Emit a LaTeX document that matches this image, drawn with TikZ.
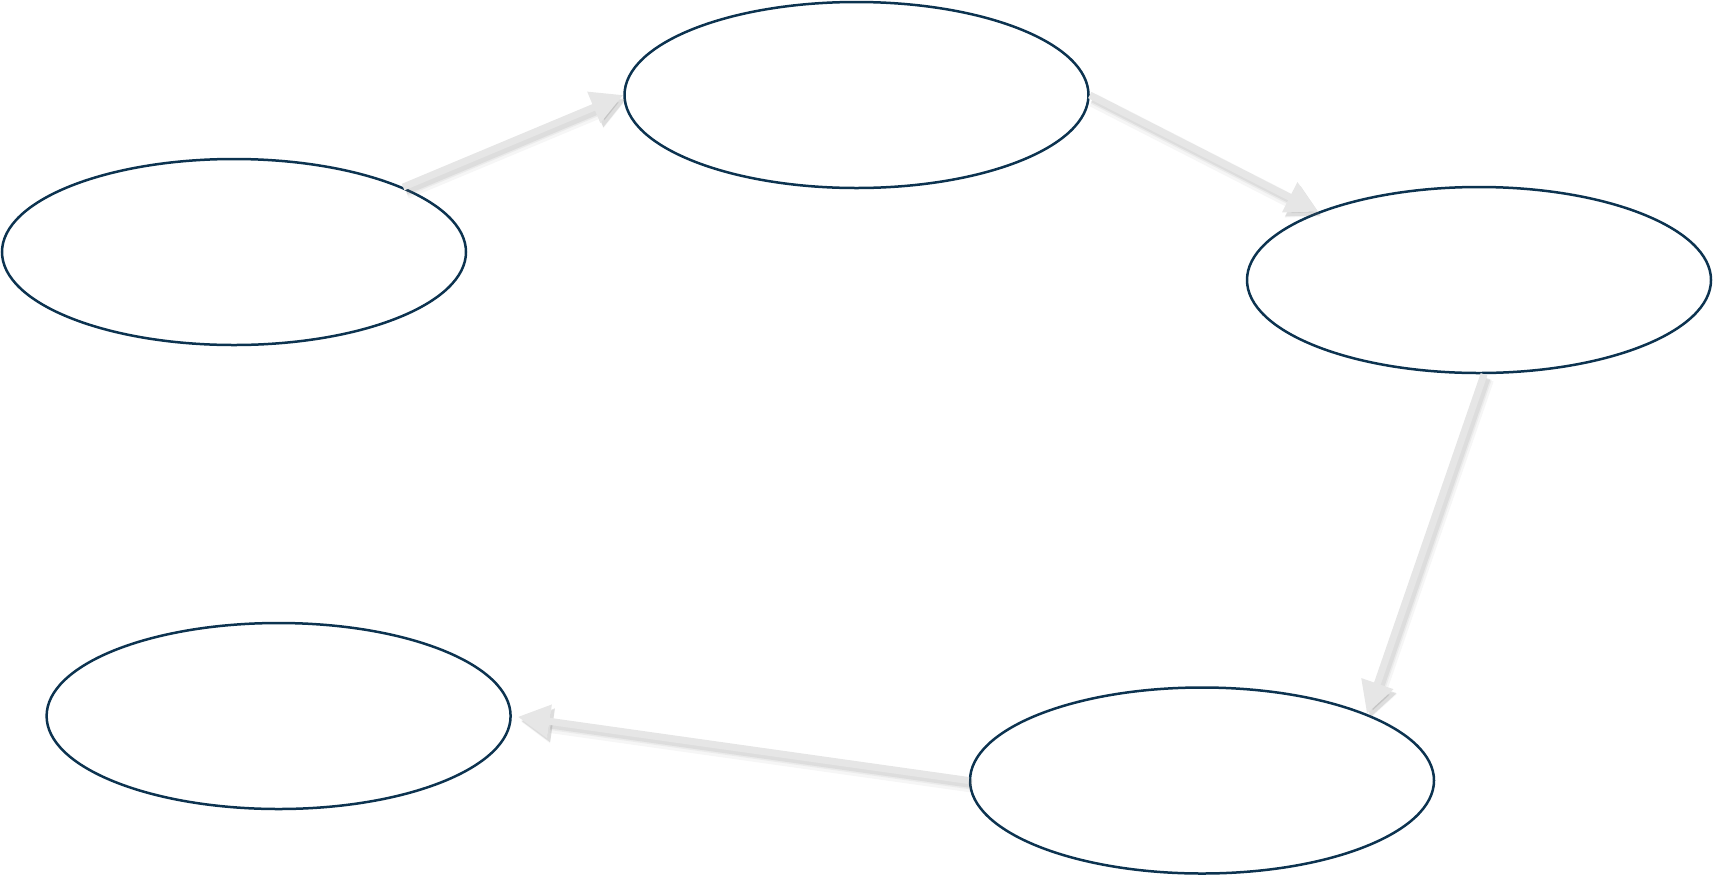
\documentclass[tikz,border=0pt]{standalone}
\usetikzlibrary{arrows.meta,shapes.geometric}
\definecolor{ringblue}{HTML}{0C3350}
\definecolor{arrowgray}{HTML}{E6E6E6}
\tikzset{
  stage/.style={ellipse, draw=ringblue, line width=2.5pt, fill=white,
    minimum width=464pt, minimum height=186pt, inner sep=0pt},
  flow/.style={draw=arrowgray, line width=7pt,
    -{Triangle[length=32pt,width=32pt]},
    preaction={draw=black!60, opacity=0.06, line width=14pt,
      transform canvas={shift={(3pt,-5pt)}}},
    preaction={draw=black!60, opacity=0.08, line width=10pt,
      transform canvas={shift={(3pt,-4pt)}}},
    preaction={draw=black!60, opacity=0.10, line width=7pt,
      transform canvas={shift={(3pt,-4pt)}}}}
}
\begin{document}
\begin{tikzpicture}[x=1pt,y=-1pt]
\useasboundingbox (0,0) rectangle (1713,876);
\node[stage] (e1) at (234,252) {};
\node[stage] (e2) at (856.5,95) {};
\node[stage] (e3) at (1479,280) {};
\node[stage] (e4) at (1202,780.5) {};
\node[stage] (e5) at (278.6,716) {};
\draw[flow] (e1.21) -- (e2.west);
\draw[flow] (e2.east) -- (e3.157);
\draw[flow] ([xshift=5pt]e3.south) -- (e4.22);
\draw[flow, shorten >=6pt] (e4.west) -- (e5.east);
\end{tikzpicture}
\end{document}
